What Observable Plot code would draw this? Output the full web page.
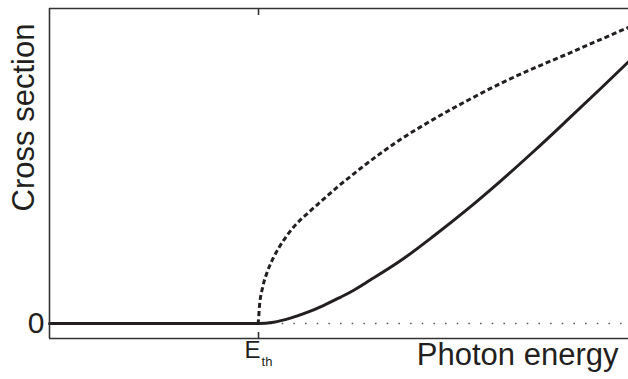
<!DOCTYPE html>
<html>
<head>
<meta charset="utf-8">
<script src="https://cdn.jsdelivr.net/npm/d3@7"></script>
<script src="https://cdn.jsdelivr.net/npm/@observablehq/plot@0.6"></script>
<style>
  html, body { margin: 0; padding: 0; background: #fff; }
  #chart svg { display: block; }
</style>
</head>
<body>
<div id="chart"></div>
<script>
// Photon energy (arbitrary units) and threshold energy
const energyDomain = [0, 100];
const crossDomain = [-4.76, 100];
const thresholdEnergy = 36.1;

// Dashed curve: steep, sqrt-like rise right above threshold
const dashedEnergy = [0, 36.0, 36.3, 36.8, 37.7, 38.7, 40.4, 42.1, 44.6, 46.8, 49.7, 52.0, 53.7, 60.6, 66.3, 72.2, 77.9, 83.6, 89.5, 94.6, 100];
const dashedCross  = [0, 0, 6.3, 11.4, 16.8, 21.0, 26.3, 30.5, 35.0, 38.6, 43.3, 46.7, 49.2, 58.4, 64.8, 70.8, 76.2, 81.0, 85.6, 89.7, 94.0];

// Solid curve: slow onset above threshold
const solidEnergy = [0, 36.1, 38.7, 41.6, 44.6, 47.3, 50.3, 52.0, 55.4, 60.6, 66.3, 72.2, 77.9, 83.6, 89.5, 95.2, 100];
const solidCross  = [0, 0, 0.4, 1.7, 3.6, 5.7, 8.4, 10.0, 13.8, 19.9, 27.7, 36.3, 45.2, 54.6, 64.7, 74.6, 83.1];

const yTicks = [0];
const xTicks = [thresholdEnergy];

const dashed = dashedEnergy.map((e, i) => ({e, s: dashedCross[i]}));
const solid = solidEnergy.map((e, i) => ({e, s: solidCross[i]}));
const zeroLine = [{e: thresholdEnergy, s: 0}, {e: energyDomain[1], s: 0}];

const ink = "#231f20";
const font = "'Liberation Sans', Arial, Helvetica, sans-serif";

const chart = Plot.plot({
  width: 628,
  height: 379,
  marginLeft: 49,
  marginRight: 0,
  marginTop: 8,
  marginBottom: 41,
  style: {fontFamily: font, color: ink, background: "#fff"},
  x: {domain: energyDomain, axis: null},
  y: {domain: crossDomain, axis: null},
  marks: [
    // dotted baseline above threshold
    Plot.line(zeroLine, {x: "e", y: "s", stroke: "#555", strokeWidth: 1.5, strokeLinecap: "butt", strokeDasharray: "1.5 10.17", strokeDashoffset: -11.5}),
    Plot.line(solid, {x: "e", y: "s", stroke: ink, strokeWidth: 3, curve: "monotone-x"}),
    Plot.line(dashed, {x: "e", y: "s", stroke: ink, strokeWidth: 3, strokeLinecap: "butt", strokeDasharray: "5 3", curve: "monotone-x"}),
    // box lines
    Plot.ruleX([energyDomain[0]], {stroke: "#333", strokeWidth: 1.6}),
    Plot.ruleY(crossDomain, {stroke: "#333", strokeWidth: 1.6}),
    // inward ticks at threshold
    Plot.axisX(xTicks, {anchor: "bottom", label: null, tickSize: -6, tickFormat: null, text: null, stroke: "#333", strokeWidth: 1.6}),
    Plot.axisX(xTicks, {anchor: "top", label: null, tickSize: -6, tickFormat: null, text: null, stroke: "#333", strokeWidth: 1.6}),
    Plot.axisY(yTicks, {anchor: "left", label: null, tickSize: 0, tickPadding: 5, fontSize: 30, fill: ink, tickFormat: d => String(d)}),
    // threshold label E_th
    Plot.text(["E"], {x: xTicks[0], frameAnchor: "bottom", textAnchor: "end", dx: 2, dy: 19, fontSize: 24, fill: ink}),
    Plot.text(["th"], {x: xTicks[0], frameAnchor: "bottom", textAnchor: "start", dx: 3, dy: 27, fontSize: 13, fill: ink}),
    // axis titles
    Plot.text(["Photon energy"], {frameAnchor: "bottom-right", textAnchor: "end", dx: -10, dy: 26, fontSize: 31, fill: ink}),
    Plot.text(["Cross section"], {frameAnchor: "left", textAnchor: "middle", rotate: -90, dx: -25, dy: -56, fontSize: 31, fill: ink})
  ]
});
document.getElementById("chart").appendChild(chart);
</script>
</body>
</html>
